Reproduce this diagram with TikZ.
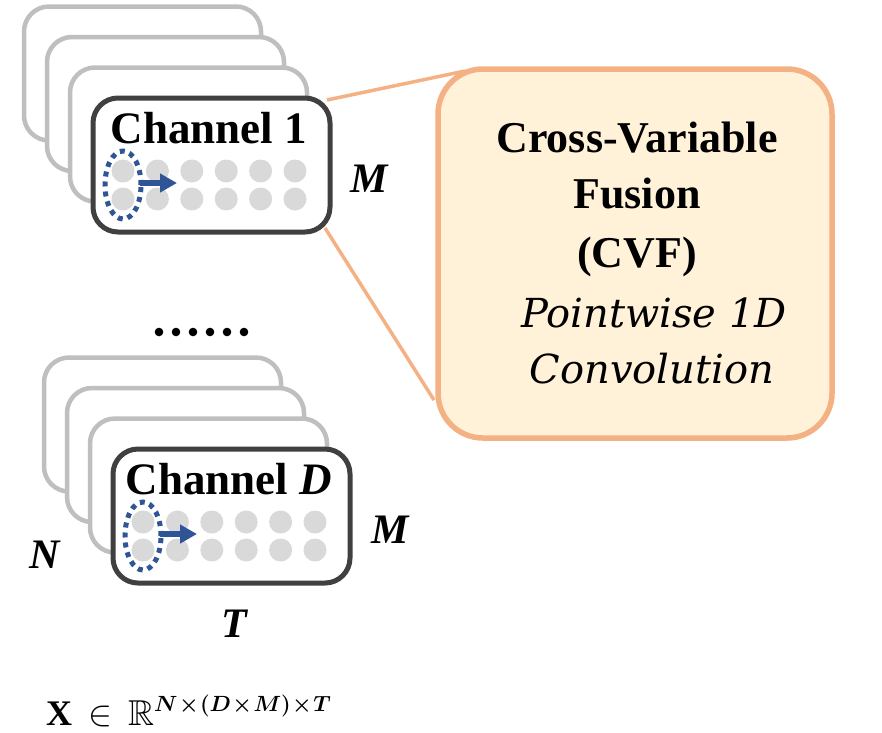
\documentclass[tikz,border=0pt]{standalone}
\usepackage{fix-cm}
\usepackage{amsmath,amssymb}
\usepackage{fontspec}
\setmainfont{Liberation Serif}
\newfontfamily\convfont{DejaVu Serif}
\usetikzlibrary{arrows.meta,backgrounds,calc}

\definecolor{framegray}{RGB}{191,191,191}
\definecolor{framedark}{RGB}{64,64,64}
\definecolor{dotgray}{RGB}{217,217,217}
\definecolor{arrowblue}{RGB}{47,85,151}
\definecolor{cvfedge}{RGB}{244,177,131}
\definecolor{cvffill}{RGB}{255,242,217}

\tikzset{
  backframe/.style={draw=framegray, line width=4.5pt, fill=white, rounded corners=25pt},
  frontframe/.style={draw=framedark, line width=5pt, fill=white, rounded corners=25pt,
    minimum width=237pt, minimum height=134pt, inner sep=0pt, outer sep=0pt},
  chanlabel/.style={font=\fontsize{45}{50}\selectfont\bfseries, inner sep=0pt},
  dimlabel/.style={font=\fontsize{42}{48}\selectfont\bfseries\itshape, inner sep=0pt},
  cvfbox/.style={draw=cvfedge, line width=5.5pt, fill=cvffill, rounded corners=45pt,
    minimum width=394pt, minimum height=369pt, inner sep=0pt, outer sep=0pt},
  cvftitle/.style={font=\fontsize{44}{50}\selectfont\bfseries, inner sep=0pt},
  cvfsub/.style={font=\fontsize{40}{46}\selectfont\convfont\itshape, inner sep=0pt},
  cvfline/.style={draw=cvfedge, line width=3.5pt},
  flowarrow/.style={arrowblue, line width=6pt, -{Triangle[length=17pt,width=18pt]}},
  groupring/.style={arrowblue, line width=5pt, dash pattern=on 5pt off 5pt},
}

% A stack of channel frames; #1,#2 = top-left of the front frame, #3 = node name, #4 = label
\newcommand\channelstack[4]{%
  \foreach \k in {3,2,1}
    \draw[backframe] (#1-23*\k, #2-30.5*\k) rectangle +(237,134);
  \node[frontframe, anchor=north west] (#3) at (#1,#2) {};
  \foreach \c in {0,...,5}
    \foreach \r in {73,101}
      \fill[dotgray] (#1+30+34.4*\c, #2+\r) circle[radius=11.5pt];
  \draw[groupring] (#1+30, #2+87) ellipse[x radius=18pt, y radius=34pt];
  \draw[flowarrow] (#1+47, #2+85) -- (#1+84, #2+85);
  \node[chanlabel, anchor=base] (#3-label) at (#1+116, #2+45) {#4};
}

\begin{document}
\begin{tikzpicture}[x=1pt, y=-1pt]
\useasboundingbox (0,0) rectangle (882,732);

% channel stacks
\channelstack{93}{98}{ch1}{Channel 1}
\channelstack{113}{449}{chD}{Channel \textit{D}}

% dimension labels
\node[dimlabel, anchor=base west] (m1) at (350,192) {M};
\node[dimlabel, anchor=base west] (mD) at (371,543) {M};
\node[dimlabel, anchor=base west] (nD) at (29,568) {N};
\node[dimlabel, anchor=base west] (tD) at (221,637) {T};

% ellipsis between the stacks
\foreach \i in {0,...,5}
  \fill (159+17*\i, 332) circle[radius=4.3pt];

% fusion box
\node[cvfbox] (cvf) at (635,253.5) {};
\node[cvftitle, anchor=base] (cvf-1) at (637,152) {Cross-Variable};
\node[cvftitle, anchor=base] (cvf-2) at (637,208) {Fusion};
\node[cvftitle, anchor=base] (cvf-3) at (637,267) {(CVF)};
\node[cvfsub, anchor=base] (cvf-4) at (654,327) {Pointwise 1D};
\node[cvfsub, anchor=base] (cvf-5) at (652,383) {Convolution};

% zoom lines from channel 1 to the fusion box
\begin{scope}[on background layer]
  \draw[cvfline] ($(ch1.north east)+(-3,2)$) -- ($(cvf.north west)+(27,2)$);
  \draw[cvfline] ($(ch1.south east)+(-5,-4)$) -- ($(cvf.south west)+(-4,-38)$);
\end{scope}

% input shape: the exponent is set as its own raised box so it keeps a large size
\node[anchor=base west, inner sep=0pt] (shape) at (46,725)
  {\fontsize{36}{42}\selectfont $\mathbf{X}\mathrel{\,\in\,}\mathbb{R}$%
   \raisebox{14pt}{\fontsize{22}{26}\selectfont$\boldsymbol{N\!\times\!(D\!\times\! M)\!\times\! T}$}};
\end{tikzpicture}
\end{document}
